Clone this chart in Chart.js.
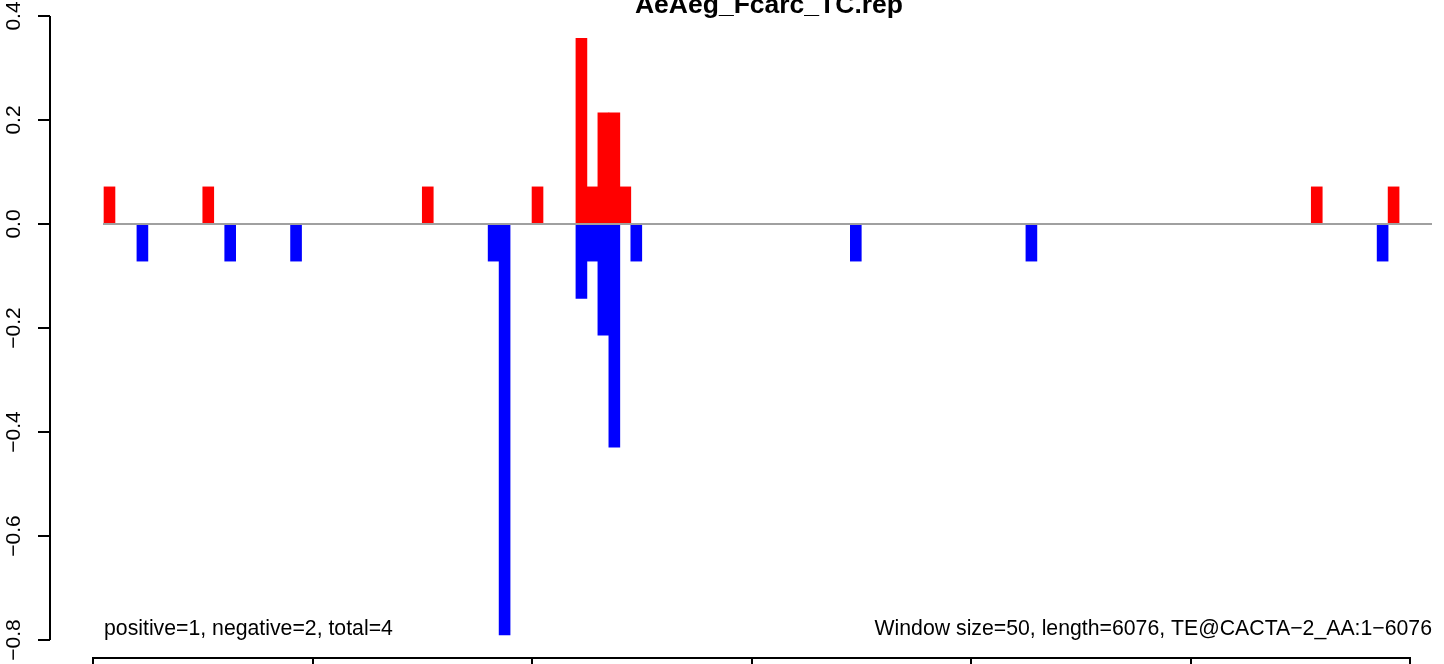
<!DOCTYPE html>
<html><head><meta charset="utf-8">
<script src="https://cdn.jsdelivr.net/npm/chart.js@4/dist/chart.umd.min.js"></script>
<style>html,body{margin:0;padding:0;background:#fff;overflow:hidden}canvas{display:block}</style>
</head><body>
<canvas id="c" width="1444" height="664"></canvas>
<script>
const chartTitle = "AeAeg_Fcarc_TC.rep";
const leftNote = "positive=1, negative=2, total=4";
const rightNote = "Window size=50, length=6076, TE@CACTA\u22122_AA:1\u22126076";
const windowSize = 50;
const seqEnd = 6100;
const positiveStarts = [50, 500, 1500, 2000, 2200, 2250, 2300, 2350, 2400, 5550, 5900];
const positiveValues = [0.0714, 0.0714, 0.0714, 0.0714, 0.357, 0.0714, 0.214, 0.214, 0.0714, 0.0714, 0.0714];
const negativeStarts = [200, 600, 900, 1800, 1850, 2200, 2250, 2300, 2350, 2450, 3450, 4250, 5850];
const negativeValues = [-0.0714, -0.0714, -0.0714, -0.0714, -0.79, -0.143, -0.0714, -0.214, -0.429, -0.0714, -0.0714, -0.0714, -0.0714];
const yTickValues = [-0.8, -0.6, -0.4, -0.2, 0, 0.2, 0.4];
const xTickValues = [0, 1000, 2000, 3000, 4000, 5000, 6000];

const FONT = '"Liberation Sans", Arial, Helvetica, sans-serif';

function toPoints(starts, vals) {
  return starts.map((s, i) => ({ x: s + windowSize / 2, y: vals[i] }));
}

const overlay = {
  id: 'overlay',
  afterDatasetsDraw(chart) {
    const { ctx, scales: { x, y } } = chart;
    ctx.save();
    const y0 = y.getPixelForValue(0);
    ctx.strokeStyle = '#a0a0a0';
    ctx.lineWidth = 2;
    ctx.beginPath();
    ctx.moveTo(x.getPixelForValue(windowSize) - 1, y0);
    ctx.lineTo(x.getPixelForValue(seqEnd), y0);
    ctx.stroke();
    ctx.restore();
  },
  afterDraw(chart) {
    const { ctx, chartArea, scales: { x, y } } = chart;
    ctx.save();
    ctx.strokeStyle = '#000';
    ctx.lineWidth = 2;
    ctx.beginPath();
    ctx.moveTo(chartArea.left, y.getPixelForValue(yTickValues[0]));
    ctx.lineTo(chartArea.left, y.getPixelForValue(yTickValues[yTickValues.length - 1]));
    ctx.stroke();
    ctx.beginPath();
    ctx.moveTo(x.getPixelForValue(xTickValues[0]), chartArea.bottom + 1);
    ctx.lineTo(x.getPixelForValue(xTickValues[xTickValues.length - 1]), chartArea.bottom + 1);
    ctx.stroke();
    ctx.fillStyle = '#000';
    const left = x.getPixelForValue(windowSize);
    const right = x.getPixelForValue(seqEnd);
    ctx.font = 'bold 26.5px ' + FONT;
    ctx.textAlign = 'center';
    ctx.textBaseline = 'alphabetic';
    ctx.fillText(chartTitle, (left + right) / 2 + 1, 13);
    ctx.font = '21.25px ' + FONT;
    ctx.textAlign = 'left';
    ctx.fillText(leftNote, left, 635);
    ctx.textAlign = 'right';
    ctx.fillText(rightNote, right, 635);
    ctx.restore();
  }
};

new Chart(document.getElementById('c'), {
  type: 'bar',
  data: {
    datasets: [
      { label: 'positive', data: toPoints(positiveStarts, positiveValues), backgroundColor: '#ff0000',
        borderWidth: 0, barPercentage: 1, categoryPercentage: 1, grouped: false },
      { label: 'negative', data: toPoints(negativeStarts, negativeValues), backgroundColor: '#0000ff',
        borderWidth: 0, barPercentage: 1, categoryPercentage: 1, grouped: false }
    ]
  },
  options: {
    responsive: false,
    devicePixelRatio: 1,
    animation: false,
    layout: { padding: { top: 16, right: 12, left: 0, bottom: 0 } },
    plugins: { legend: { display: false }, tooltip: { enabled: false }, title: { display: false } },
    scales: {
      x: {
        type: 'linear',
        position: 'bottom',
        min: -196,
        max: seqEnd,
        offset: false,
        afterBuildTicks: (s) => { s.ticks = xTickValues.map(v => ({ value: v })); },
        afterFit: (s) => { s.height = 7; s.paddingLeft = 0; s.paddingRight = 0; },
        ticks: { display: false },
        grid: { offset: false, drawOnChartArea: false, drawTicks: true, tickLength: 7, color: '#000', lineWidth: 2 },
        border: { display: false }
      },
      y: {
        type: 'linear',
        position: 'left',
        min: -0.8327,
        max: 0.4,
        afterBuildTicks: (s) => { s.ticks = yTickValues.map(v => ({ value: v })); },
        afterFit: (s) => { s.width = 50; s.paddingTop = 0; s.paddingBottom = 0; },
        ticks: {
          minRotation: 90, maxRotation: 90, crossAlign: 'center', padding: 3, autoSkip: false,
          color: '#000', font: { family: FONT, size: 21 },
          callback: (v) => Number(v).toFixed(1).replace('-', '\u2212')
        },
        grid: { drawOnChartArea: false, drawTicks: true, tickLength: 12, color: '#000', lineWidth: 2 },
        border: { display: false }
      }
    }
  },
  plugins: [overlay]
});
</script>
</body></html>
